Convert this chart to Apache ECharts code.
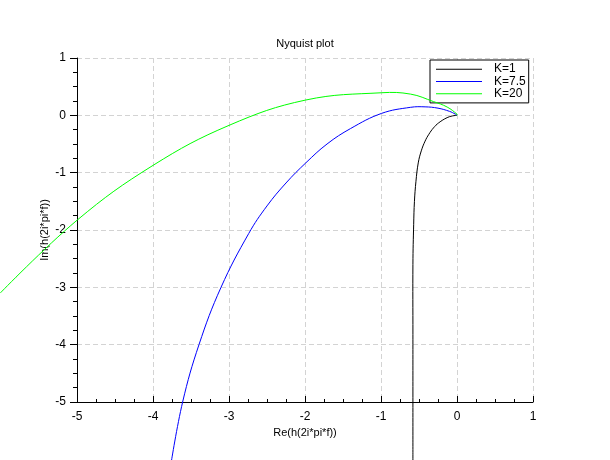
<!DOCTYPE html>
<html>
<head>
<meta charset="utf-8">
<script src="https://cdn.jsdelivr.net/npm/echarts@6/dist/echarts.min.js"></script>
<style>html,body{margin:0;padding:0;background:#fff}#c{width:610px;height:460px}</style>
</head>
<body>
<div id="c"></div>
<script>
// Data: [Re, Im]
var seriesNames = ['K=1', 'K=7.5', 'K=20'];
var k1 = [[-0.58,-6.05],[-0.58,-3.82],[-0.58,-2.60],[-0.57,-1.90],[-0.56,-1.50],[-0.54,-1.15],[-0.51,-0.83],[-0.47,-0.62],[-0.42,-0.45],[-0.37,-0.33],[-0.31,-0.22],[-0.24,-0.13],[-0.13,-0.04],[-0.06,-0.01],[0,0]];
var k75 = [[-3.76,-6.05],[-3.61,-5.00],[-3.395,-4.00],[-3.105,-3.00],[-2.74,-2.06],[-2.50,-1.58],[-2.25,-1.18],[-1.99,-0.83],[-1.71,-0.50],[-1.40,-0.23],[-0.99,0.035],[-0.61,0.14],[-0.42,0.148],[-0.25,0.125],[-0.10,0.07],[-0.02,0.02],[0,0]];
var k20 = [[-6.01,-3.10],[-5.00,-1.83],[-4.00,-0.873],[-3.00,-0.175],[-1.99,0.267],[-0.99,0.394],[-0.61,0.37],[-0.31,0.24],[-0.13,0.145],[0,0.02],[0,0]];
var seriesData = [k1, k75, k20];
var seriesColors = ['#000000', '#0000ff', '#00ff00'];

var FONT = 'Liberation Sans';
var chart = echarts.init(document.getElementById('c'), null, {renderer: 'canvas'});
var gridLine = {show: true, lineStyle: {color: '#d3d3d3', type: [5, 3], width: 1}};

function curveSeries(i) {
  var pts = seriesData[i];
  return {
    name: seriesNames[i],
    type: 'custom',
    coordinateSystem: 'cartesian2d',
    clip: false,
    itemStyle: {color: seriesColors[i], borderColor: seriesColors[i]},
    encode: {x: 0, y: 1},
    data: [pts[pts.length - 1]],
    z: 3 + i,
    renderItem: function (params, api) {
      var coords = pts.map(function (p) { return api.coord(p); });
      return {
        type: 'polyline',
        shape: {points: coords, smooth: 0.4},
        style: {stroke: seriesColors[i], fill: null, lineWidth: 1}
      };
    }
  };
}

chart.setOption({
  animation: false,
  backgroundColor: '#ffffff',
  textStyle: {fontFamily: FONT},
  title: {
    text: 'Nyquist plot', left: 'center', top: 38, padding: 0,
    textStyle: {fontSize: 11, fontWeight: 'normal', color: '#000', fontFamily: FONT}
  },
  legend: {
    orient: 'vertical', left: 430, top: 60,
    padding: [3, 3, 3, 6],
    icon: 'rect',
    itemWidth: 46, itemHeight: 1, itemGap: 0,
    borderColor: '#000', borderWidth: 1, borderRadius: 0,
    backgroundColor: '#fff',
    textStyle: {fontSize: 12, lineHeight: 12.3, color: '#000', fontFamily: FONT, padding: [0, 0, 0, 7]},
    data: seriesNames.map(function (n, i) {
      return {name: n, icon: 'rect', itemStyle: {color: seriesColors[i], borderColor: seriesColors[i], borderWidth: 0, opacity: 1}};
    })
  },
  grid: {left: 77, right: 77, top: 58, bottom: 58, containLabel: false},
  xAxis: {
    type: 'value', min: -5, max: 1, interval: 1,
    name: 'Re(h(2i*pi*f))', nameLocation: 'middle', nameGap: 25, nameMoveOverlap: false,
    nameTextStyle: {fontSize: 11, color: '#000', fontFamily: FONT},
    axisLine: {show: true, onZero: false, lineStyle: {color: '#000', width: 1}},
    axisTick: {show: true, inside: true, length: 6, lineStyle: {color: '#000'}},
    minorTick: {show: true, splitNumber: 4, length: 3, lineStyle: {color: '#000'}},
    axisLabel: {color: '#000', fontSize: 12, margin: 9, fontFamily: FONT},
    splitLine: gridLine
  },
  yAxis: {
    type: 'value', min: -5, max: 1, interval: 1,
    name: 'Im(h(2i*pi*f))', nameLocation: 'middle', nameGap: 27, nameRotate: 90, nameMoveOverlap: false,
    nameTextStyle: {fontSize: 11, color: '#000', fontFamily: FONT},
    axisLine: {show: true, onZero: false, lineStyle: {color: '#000', width: 1}},
    axisTick: {show: true, inside: false, length: 7, lineStyle: {color: '#000'}},
    minorTick: {show: true, splitNumber: 4, length: 4, lineStyle: {color: '#000'}},
    axisLabel: {color: '#000', fontSize: 12, margin: 11, fontFamily: FONT},
    splitLine: gridLine
  },
  series: [curveSeries(0), curveSeries(1), curveSeries(2)]
});
</script>
</body>
</html>
